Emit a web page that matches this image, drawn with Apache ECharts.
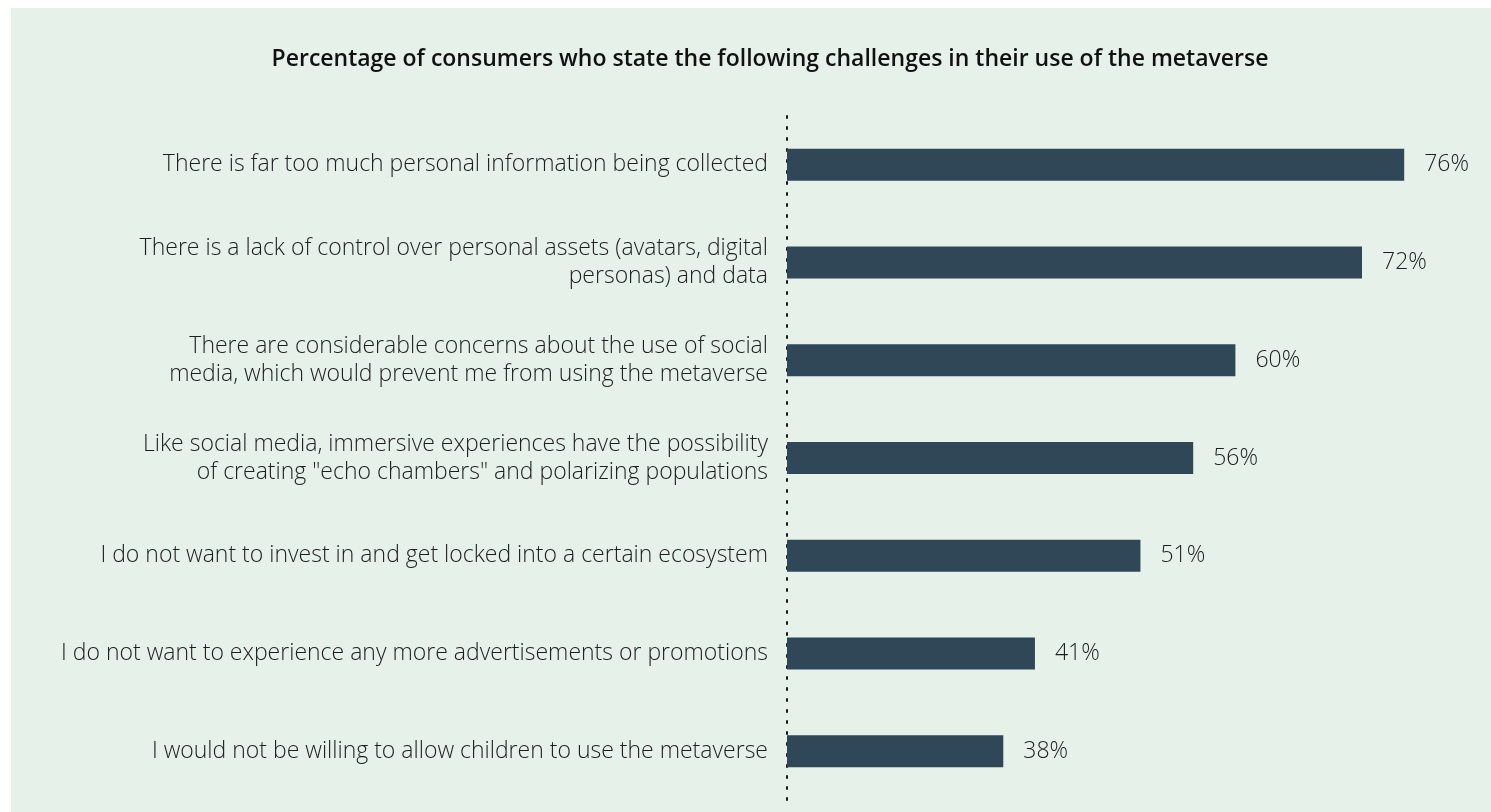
<!DOCTYPE html>
<html>
<head>
<meta charset="utf-8">
<title>Metaverse challenges</title>
<script src="https://cdn.jsdelivr.net/npm/echarts@6/dist/echarts.min.js"></script>
<style>
  html, body {
    margin: 0;
    padding: 0;
    background: #ffffff;
  }
  .chart_box {
    position: absolute;
    left: 11px;
    top: 8px;
    width: 1480px;
    height: 804px;
    background: #e6f1e9;
  }
</style>
</head>
<body>
<div class="chart_box" id="main"></div>
<script>
// 数据
var categories = [
  "There is far too much personal information being collected",
  "There is a lack of control over personal assets (avatars, digital\npersonas) and data",
  "There are considerable concerns about the use of social\nmedia, which would prevent me from using the metaverse",
  "Like social media, immersive experiences have the possibility\nof creating \"echo chambers\" and polarizing populations",
  "I do not want to invest in and get locked into a certain ecosystem",
  "I do not want to experience any more advertisements or promotions",
  "I would not be willing to allow children to use the metaverse"
];
var values = [76, 72, 60, 56, 51, 41, 38];

var chart = echarts.init(document.getElementById("main"));
chart.setOption({
  title: {
    text: "Percentage of consumers who state the following challenges in their use of the metaverse",
    left: 754,
    top: 35,
    textAlign: "center",
    textStyle: {
      fontFamily: "Open Sans",
      fontSize: 23,
      fontWeight: 600,
      color: "#111111"
    }
  },
  grid: {
    left: 776,
    right: 14,
    top: 108,
    bottom: 12,
    containLabel: false
  },
  xAxis: {
    type: "value",
    min: 17.5,
    max: 82.9,
    show: false
  },
  yAxis: {
    type: "category",
    inverse: true,
    data: categories,
    axisTick: { show: false },
    axisLine: {
      show: true,
      lineStyle: {
        color: "#1a1a1a",
        width: 2,
        type: [2, 9]
      }
    },
    axisLabel: {
      margin: 19,
      align: "right",
      fontFamily: "Open Sans",
      fontSize: 23,
      fontWeight: 300,
      lineHeight: 28,
      color: "#1e1e1e"
    }
  },
  series: [
    {
      type: "bar",
      data: values,
      barWidth: 32,
      itemStyle: { color: "#2f4757" },
      label: {
        show: true,
        position: "right",
        distance: 20,
        formatter: "{c}%",
        fontFamily: "Open Sans",
        fontSize: 23,
        fontWeight: 300,
        color: "#1e1e1e"
      }
    }
  ]
});
</script>
</body>
</html>
